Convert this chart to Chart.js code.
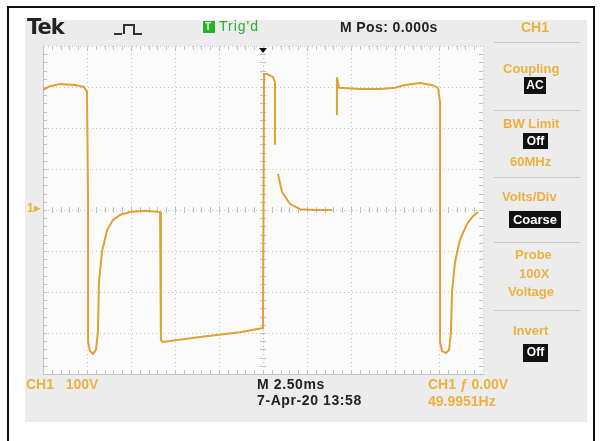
<!DOCTYPE html>
<html>
<head>
<meta charset="utf-8">
<script src="https://cdn.jsdelivr.net/npm/chart.js@4"></script>
<style>
  body { margin: 0; background: #fff; }
  #wrap { position: relative; width: 600px; height: 441px; overflow: hidden; }
  #frame { position: absolute; left: 7px; top: 6px; width: 584px; height: 450px; border: 2px solid #111; }
  #screen { position: absolute; left: 25px; top: 20px; width: 562px; height: 402px; background: #ececec; }
  canvas { position: absolute; left: 0; top: 0; }
  .t { position: absolute; font-family: 'Liberation Sans', Arial, sans-serif; font-size: 12px; white-space: nowrap; line-height: 14px; }
  .o { color: #ebb240; font-weight: bold; }
  .k { color: #222; font-weight: bold; }
  .box { position: absolute; background: #111; color: #fff; font-family: 'Liberation Sans', Arial, sans-serif; font-weight: bold; font-size: 12px; line-height: 17px; text-align: center; }
  .sep { position: absolute; left: 494px; width: 86px; height: 1px; background: #c9c9c9; }
</style>
</head>
<body>
<div id="wrap">
  <div id="frame"></div>
  <div id="screen"></div>
  <canvas id="scope" width="600" height="441"></canvas>

  <div class="t" style="left:27px;top:16px;font-size:21px;line-height:22px;font-weight:bold;color:#222;font-family:'DejaVu Sans',sans-serif;letter-spacing:-1px">Tek</div>
  <svg style="position:absolute;left:112px;top:20px" width="40" height="18">
    <path d="M2 14 H10 M12 14 V5 H22 V14 H30" stroke="#333" stroke-width="2" fill="none"/>
  </svg>
  <div style="position:absolute;left:203px;top:21px;width:12px;height:12px;background:#27b127"></div>
  <div class="t" style="left:205px;top:20px;color:#dfffdf;font-weight:bold;font-size:10px">T</div>
  <div class="t" style="left:219px;top:19px;color:#2cb02c;font-size:14px;letter-spacing:1px">Trig'd</div>
  <div class="t k" style="left:340px;top:20px;font-size:14px;letter-spacing:0.4px">M Pos: 0.000s</div>
  <div class="t o" style="left:521px;top:20px;font-size:14px">CH1</div>

  <div class="sep" style="top:42px"></div>
  <div class="t o" style="left:503px;top:62px;font-size:13px">Coupling</div>
  <div class="box" style="left:524px;top:77px;width:22px;height:17px">AC</div>
  <div class="sep" style="top:110px"></div>
  <div class="t o" style="left:503px;top:117px;font-size:13px">BW Limit</div>
  <div class="box" style="left:523px;top:133px;width:25px;height:16px">Off</div>
  <div class="t o" style="left:510px;top:155px;font-size:13px">60MHz</div>
  <div class="sep" style="top:177px"></div>
  <div class="t o" style="left:502px;top:190px;font-size:13px">Volts/Div</div>
  <div class="box" style="left:509px;top:211px;width:52px;height:17px;font-size:13px">Coarse</div>
  <div class="sep" style="top:242px"></div>
  <div class="t o" style="left:515px;top:248px;font-size:13px">Probe</div>
  <div class="t o" style="left:519px;top:267px;font-size:13px">100X</div>
  <div class="t o" style="left:508px;top:285px;font-size:13px">Voltage</div>
  <div class="sep" style="top:310px"></div>
  <div class="t o" style="left:513px;top:324px;font-size:13px">Invert</div>
  <div class="box" style="left:523px;top:344px;width:25px;height:18px">Off</div>

  <div class="t o" style="left:26px;top:377px;font-size:14px">CH1&nbsp;&nbsp;&nbsp;100V</div>
  <div class="t k" style="left:257px;top:377px;font-size:14px;letter-spacing:0.6px">M 2.50ms</div>
  <div class="t k" style="left:257px;top:393px;font-size:14px;letter-spacing:0.6px">7-Apr-20 13:58</div>
  <div class="t o" style="left:428px;top:377px;font-size:14px">CH1 &#x192; 0.00V</div>
  <div class="t o" style="left:428px;top:394px;font-size:14px">49.9951Hz</div>
  <div class="t o" style="left:27px;top:201px">1&#x25B8;</div>
</div>

<script>
  // time in ms (2.5 ms/div, trigger at 0), volts (100 V/div); null = gap in trace
  const timeMs = [
    -12.5, -12.1, -11.53, -10.68, -10.17, -10.0, -9.94, -9.94, -9.83, -9.66, -9.49,
    -9.38, -9.32, -9.15, -8.86, -8.52, -8.13, -7.56, -6.7, -5.85,
    -5.8, -5.68, -3.58, -1.31, 0.0,
    0.06, 0.23, 0.57, 0.68, 0.68, 0.75,
    0.85, 1.08, 1.53, 2.1, 2.95, 3.92, 4.05,
    4.2, 4.2, 4.32, 5.51, 6.65, 7.5, 8.07, 8.92, 9.6, 9.94,
    10.06, 10.06, 10.17, 10.4, 10.57, 10.68, 10.74, 10.91, 11.19, 11.59, 11.93, 12.22
  ];
  const volts = [
    293, 302, 307, 305, 300, 288, 20, -322, -344, -351, -341,
    -298, -176, -102, -49, -24, -12, -5, -2, -5,
    -317, -322, -310, -298, -288,
    332, 332, 324, 312, 159, null,
    88, 44, 15, 2, 0, 0, null,
    232, 324, 298, 295, 295, 298, 305, 310, 305, 298,
    263, -322, -344, -349, -341, -298, -200, -127, -73, -34, -15, -5
  ];

  const points = timeMs.map((t, i) => ({ x: t, y: volts[i] }));

  const scopeDecor = {
    id: 'scopeDecor',
    beforeDraw(chart) {
      const { ctx, chartArea: a } = chart;
      ctx.save();
      ctx.fillStyle = '#fbfbfb';
      ctx.fillRect(a.left, a.top, a.right - a.left, a.bottom - a.top);
      ctx.restore();
    },
    beforeDatasetsDraw(chart) {
      const { ctx, chartArea: a } = chart;
      const cx = (a.left + a.right) / 2, cy = (a.top + a.bottom) / 2;
      const dx = (a.right - a.left) / 50, dy = (a.bottom - a.top) / 40;
      ctx.save();
      ctx.strokeStyle = '#c0c0c0';
      ctx.lineWidth = 1;
      ctx.beginPath();
      for (let i = 1; i < 50; i++) {
        const x = Math.round(a.left + i * dx) + 0.5;
        ctx.moveTo(x, cy - 3); ctx.lineTo(x, cy + 3);
        ctx.moveTo(x, a.top); ctx.lineTo(x, a.top + 4);
        ctx.moveTo(x, a.bottom - 4); ctx.lineTo(x, a.bottom);
      }
      for (let j = 1; j < 40; j++) {
        const y = Math.round(a.top + j * dy) + 0.5;
        ctx.moveTo(cx - 3, y); ctx.lineTo(cx + 3, y);
        ctx.moveTo(a.left, y); ctx.lineTo(a.left + 4, y);
        ctx.moveTo(a.right - 4, y); ctx.lineTo(a.right, y);
      }
      ctx.stroke();
      // trigger position marker
      ctx.fillStyle = '#111';
      ctx.beginPath();
      ctx.moveTo(cx - 4, a.top + 2); ctx.lineTo(cx + 4, a.top + 2); ctx.lineTo(cx, a.top + 7);
      ctx.closePath();
      ctx.fill();
      ctx.restore();
    }
  };

  const config = {
    type: 'line',
    data: {
      datasets: [{
        data: points,
        borderColor: '#dda233',
        borderWidth: 2,
        pointRadius: 0,
        tension: 0,
        spanGaps: false
      }]
    },
    options: {
      responsive: false,
      animation: false,
      events: [],
      layout: { padding: { left: 43, top: 46, right: 117, bottom: 67 } },
      plugins: { legend: { display: false }, tooltip: { enabled: false } },
      scales: {
        x: {
          type: 'linear', min: -12.5, max: 12.5,
          ticks: { display: false, stepSize: 2.5 },
          grid: { color: '#c4c4c4', drawTicks: false, tickLength: 0 },
          border: { display: true, color: '#c4c4c4', dash: [1, 3] }
        },
        y: {
          min: -400, max: 400,
          ticks: { display: false, stepSize: 100 },
          grid: { color: '#c4c4c4', drawTicks: false, tickLength: 0 },
          border: { display: true, color: '#c4c4c4', dash: [1, 3] }
        }
      }
    },
    plugins: [scopeDecor]
  };

  const scopeChart = new Chart(document.getElementById('scope'), config);
</script>
</body>
</html>
